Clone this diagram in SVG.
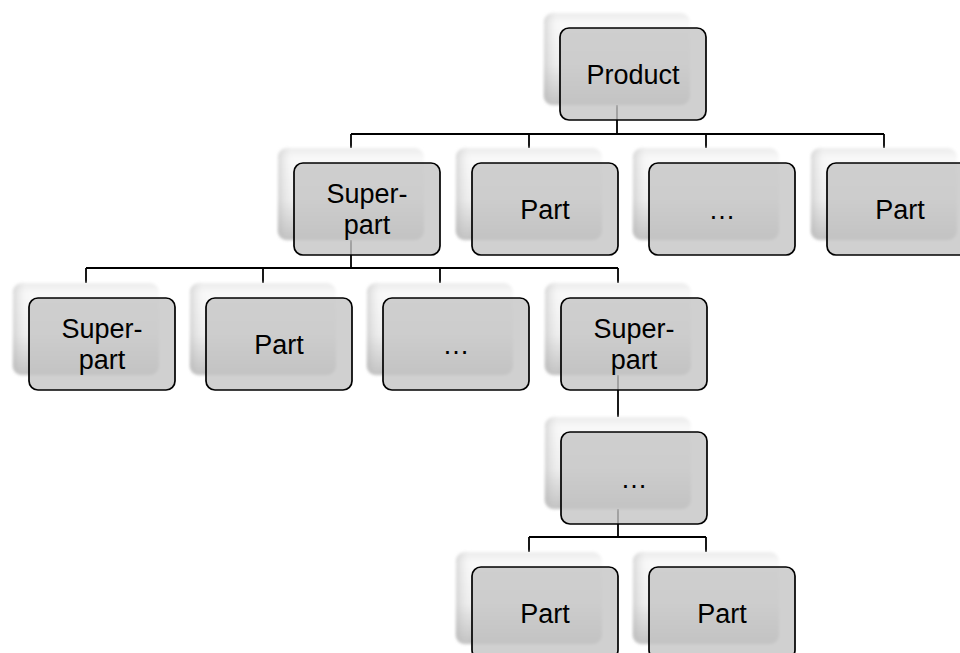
<svg xmlns="http://www.w3.org/2000/svg" width="960" height="653" viewBox="0 0 960 653">
<defs>
<linearGradient id="sg" x1="0" y1="0" x2="0" y2="1">
<stop offset="0" stop-color="#ececec"/>
<stop offset="0.12" stop-color="#f9f9f9"/>
<stop offset="0.55" stop-color="#eeeeee"/>
<stop offset="1" stop-color="#bcbcbc"/>
</linearGradient>
<linearGradient id="sl" x1="0" y1="0" x2="1" y2="0">
<stop offset="0" stop-color="#b0b0b0" stop-opacity="0.45"/>
<stop offset="0.12" stop-color="#ffffff" stop-opacity="0"/>
<stop offset="1" stop-color="#ffffff" stop-opacity="0"/>
</linearGradient>
<filter id="soft" x="-10%" y="-10%" width="120%" height="120%">
<feGaussianBlur stdDeviation="1.6"/>
</filter>
<style>
.sh{fill:url(#sg);filter:url(#soft);}
.sh2{fill:url(#sl);filter:url(#soft);}
.bx{fill:#c4c4c4;fill-opacity:0.8;stroke:#000;stroke-width:1.7;}
.t{font-family:"Liberation Sans",Arial,sans-serif;font-size:27px;fill:#000;text-anchor:middle;}
.c{fill:none;stroke:#000;stroke-width:1.8;}
</style>
</defs>
<rect width="960" height="653" fill="#fff"/>
<g id="connectors">
<path class="c" d="M617,105V134M351,134H884M351,134V148M529,134V148M706,134V148M884,134V148"/>
<path class="c" d="M351,240V268M86,268H618M86,268V283M263,268V283M440,268V283M618,268V283"/>
<path class="c" d="M618,375V417"/>
<path class="c" d="M618,509V537M529,537H706M529,537V552M706,537V552"/>
</g>
<g id="n-product">
<rect class="sh" x="544" y="13" width="146" height="92" rx="9"/>
<rect class="sh2" x="544" y="13" width="146" height="92" rx="9"/>
<rect class="bx" x="560" y="28" width="146" height="92" rx="9"/>
<text class="t" x="633" y="83.5">Product</text>
</g>
<g id="n-r2-superpart">
<rect class="sh" x="278" y="148" width="146" height="92" rx="9"/>
<rect class="sh2" x="278" y="148" width="146" height="92" rx="9"/>
<rect class="bx" x="294" y="163" width="146" height="92" rx="9"/>
<text class="t" x="367" y="203">Super-</text>
<text class="t" x="367" y="233.5">part</text>
</g>
<g id="n-r2-part1">
<rect class="sh" x="456" y="148" width="146" height="92" rx="9"/>
<rect class="sh2" x="456" y="148" width="146" height="92" rx="9"/>
<rect class="bx" x="472" y="163" width="146" height="92" rx="9"/>
<text class="t" x="545" y="218.5">Part</text>
</g>
<g id="n-r2-more">
<rect class="sh" x="633" y="148" width="146" height="92" rx="9"/>
<rect class="sh2" x="633" y="148" width="146" height="92" rx="9"/>
<rect class="bx" x="649" y="163" width="146" height="92" rx="9"/>
<text class="t" x="722" y="218.5">…</text>
</g>
<g id="n-r2-part2">
<rect class="sh" x="811" y="148" width="146" height="92" rx="9"/>
<rect class="sh2" x="811" y="148" width="146" height="92" rx="9"/>
<rect class="bx" x="827" y="163" width="146" height="92" rx="9"/>
<text class="t" x="900" y="218.5">Part</text>
</g>
<g id="n-r3-superpart1">
<rect class="sh" x="13" y="283" width="146" height="92" rx="9"/>
<rect class="sh2" x="13" y="283" width="146" height="92" rx="9"/>
<rect class="bx" x="29" y="298" width="146" height="92" rx="9"/>
<text class="t" x="102" y="338">Super-</text>
<text class="t" x="102" y="368.5">part</text>
</g>
<g id="n-r3-part">
<rect class="sh" x="190" y="283" width="146" height="92" rx="9"/>
<rect class="sh2" x="190" y="283" width="146" height="92" rx="9"/>
<rect class="bx" x="206" y="298" width="146" height="92" rx="9"/>
<text class="t" x="279" y="353.5">Part</text>
</g>
<g id="n-r3-more">
<rect class="sh" x="367" y="283" width="146" height="92" rx="9"/>
<rect class="sh2" x="367" y="283" width="146" height="92" rx="9"/>
<rect class="bx" x="383" y="298" width="146" height="92" rx="9"/>
<text class="t" x="456" y="353.5">…</text>
</g>
<g id="n-r3-superpart2">
<rect class="sh" x="545" y="283" width="146" height="92" rx="9"/>
<rect class="sh2" x="545" y="283" width="146" height="92" rx="9"/>
<rect class="bx" x="561" y="298" width="146" height="92" rx="9"/>
<text class="t" x="634" y="338">Super-</text>
<text class="t" x="634" y="368.5">part</text>
</g>
<g id="n-r4-more">
<rect class="sh" x="545" y="417" width="146" height="92" rx="9"/>
<rect class="sh2" x="545" y="417" width="146" height="92" rx="9"/>
<rect class="bx" x="561" y="432" width="146" height="92" rx="9"/>
<text class="t" x="634" y="487.5">…</text>
</g>
<g id="n-r5-part1">
<rect class="sh" x="456" y="552" width="146" height="92" rx="9"/>
<rect class="sh2" x="456" y="552" width="146" height="92" rx="9"/>
<rect class="bx" x="472" y="567" width="146" height="92" rx="9"/>
<text class="t" x="545" y="622.5">Part</text>
</g>
<g id="n-r5-part2">
<rect class="sh" x="633" y="552" width="146" height="92" rx="9"/>
<rect class="sh2" x="633" y="552" width="146" height="92" rx="9"/>
<rect class="bx" x="649" y="567" width="146" height="92" rx="9"/>
<text class="t" x="722" y="622.5">Part</text>
</g>
</svg>
